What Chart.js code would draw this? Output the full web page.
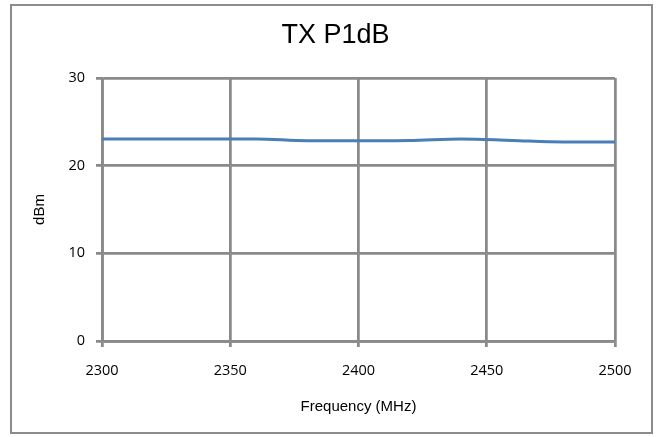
<!DOCTYPE html>
<html>
<head>
<meta charset="utf-8">
<script src="https://cdn.jsdelivr.net/npm/chart.js@4/dist/chart.umd.min.js"></script>
<style>
html,body{margin:0;padding:0;background:#fff;}
#wrap{width:659px;height:437px;position:relative;}
</style>
</head>
<body>
<div id="wrap"><canvas id="c" width="659" height="437"></canvas></div>
<script>
const frequencies = [2300, 2320, 2340, 2360, 2380, 2400, 2420, 2440, 2460, 2480, 2500];
const p1dB = [23.05, 23.05, 23.05, 23.05, 22.85, 22.85, 22.88, 23.05, 22.87, 22.7, 22.7];
const xTicks = [2300, 2350, 2400, 2450, 2500];
const yTicks = [0, 10, 20, 30];
const chartTitle = 'TX P1dB';
const xTitle = 'Frequency (MHz)';
const yTitle = 'dBm';

const gridColor = '#8a8a8a';
const tickFont = {family: '"Open Sans", "Liberation Sans", sans-serif', size: 14.5};

const frame = {
  id: 'frame',
  beforeDraw(chart) {
    const ctx = chart.ctx;
    ctx.save();
    ctx.fillStyle = '#fff';
    ctx.fillRect(0, 0, chart.width, chart.height);
    ctx.strokeStyle = '#8c8c8c';
    ctx.lineWidth = 2;
    ctx.strokeRect(11, 5, 641, 428);
    ctx.restore();
  }
};

new Chart(document.getElementById('c'), {
  type: 'scatter',
  data: {
    datasets: [{
      data: frequencies.map((f, i) => ({x: f, y: p1dB[i]})),
      showLine: true,
      borderColor: '#4a7ebb',
      backgroundColor: '#4a7ebb',
      borderWidth: 3,
      pointRadius: 0,
      cubicInterpolationMode: 'monotone',
      fill: false
    }]
  },
  options: {
    responsive: false,
    animation: false,
    devicePixelRatio: 1,
    layout: {padding: {left: 56, right: 44, top: 0, bottom: 0}},
    plugins: {
      legend: {display: false},
      tooltip: {enabled: false},
      title: {
        display: true,
        text: chartTitle,
        color: '#000',
        font: {family: '"Liberation Sans", Arial, sans-serif', size: 27, weight: 'normal'},
        padding: {top: 19.5, bottom: 26.1}
      }
    },
    scales: {
      x: {
        type: 'linear',
        min: 2300,
        max: 2500,
        afterBuildTicks(scale) { scale.ticks = xTicks.map(v => ({value: v})); },
        afterFit(scale) { scale.height = 96; },
        ticks: {
          color: '#000',
          font: tickFont,
          padding: 15,
          maxRotation: 0,
          callback: v => String(v)
        },
        grid: {color: gridColor, lineWidth: 2.75, tickLength: 6, tickColor: gridColor},
        border: {display: true, color: gridColor, width: 2.75},
        title: {
          display: true,
          text: xTitle,
          color: '#000',
          font: {family: '"Liberation Sans", Arial, sans-serif', size: 15},
          padding: {top: 0, bottom: 21}
        }
      },
      y: {
        type: 'linear',
        min: 0,
        max: 30,
        afterBuildTicks(scale) { scale.ticks = yTicks.map(v => ({value: v})); },
        afterFit(scale) { scale.width = 46; },
        ticks: {
          color: '#000',
          font: tickFont,
          padding: 11,
          callback: v => String(v)
        },
        grid: {color: gridColor, lineWidth: 2.75, tickLength: 6, tickColor: gridColor},
        border: {display: true, color: gridColor, width: 2.75},
        title: {
          display: true,
          text: yTitle,
          color: '#000',
          font: {family: '"Liberation Sans", Arial, sans-serif', size: 15},
          padding: {top: -25, bottom: 0}
        }
      }
    }
  },
  plugins: [frame]
});
</script>
</body>
</html>
